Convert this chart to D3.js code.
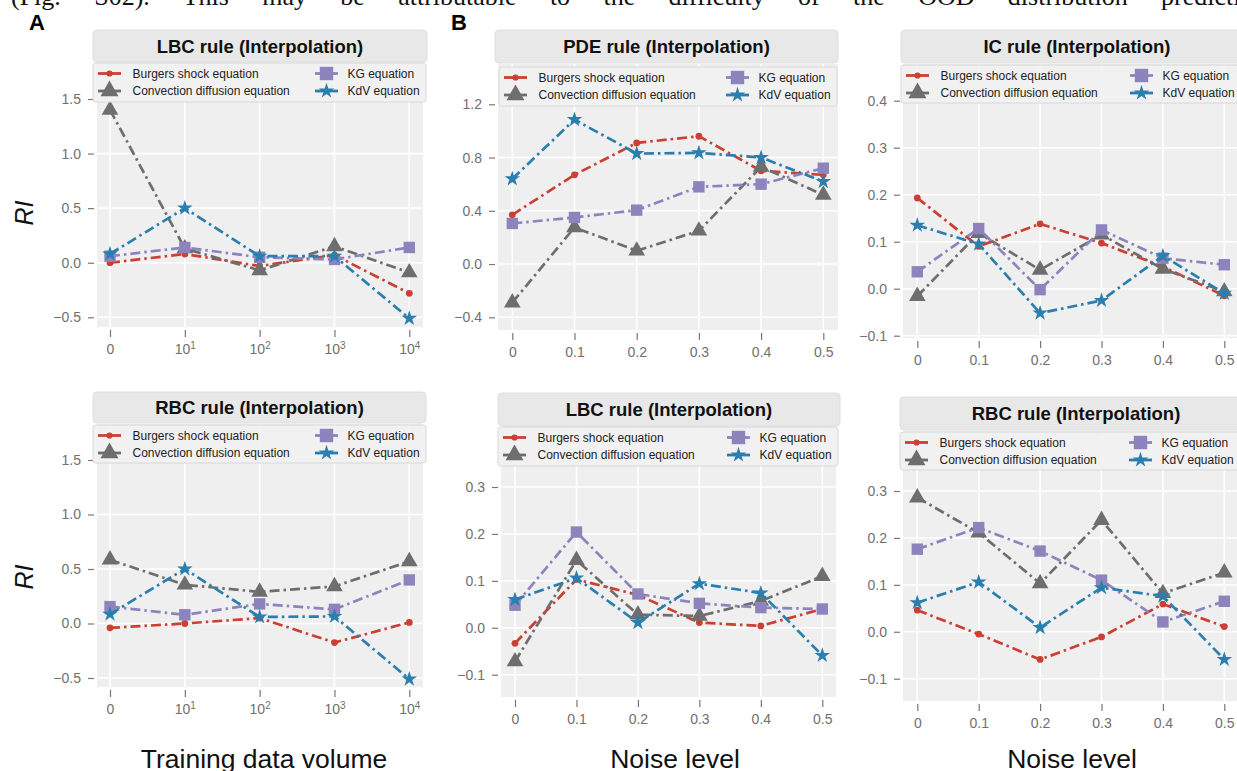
<!DOCTYPE html>
<html>
<head>
<meta charset="utf-8">
<script src="https://cdn.jsdelivr.net/npm/d3@7"></script>
<style>
  html, body { margin: 0; padding: 0; background: #fff; }
  svg { display: block; font-family: "Liberation Sans", Arial, sans-serif; }
</style>
</head>
<body>
<svg id="fig" width="1237" height="771"></svg>
<script>
// ---- data ----
const seriesNames = ["Burgers shock equation", "Convection diffusion equation", "KG equation", "KdV equation"];
const volumeLabels = ["0", "10^1", "10^2", "10^3", "10^4"];
const noiseLabels = ["0", "0.1", "0.2", "0.3", "0.4", "0.5"];

const volumeTicks = [-0.5, 0, 0.5, 1.0, 1.5];
const pdeTicks = [-0.4, 0, 0.4, 0.8, 1.2];
const icTicks = [-0.1, 0, 0.1, 0.2, 0.3, 0.4];
const noiseTicks = [-0.1, 0, 0.1, 0.2, 0.3];

// RI values, one row per series (Burgers, Convection, KG, KdV)
const lbcVolumeRI = [
  [0.00, 0.08, -0.03, 0.07, -0.28],
  [1.40, 0.13, -0.07, 0.15, -0.09],
  [0.06, 0.14, 0.05, 0.03, 0.14],
  [0.08, 0.50, 0.06, 0.06, -0.51]
];
const rbcVolumeRI = [
  [-0.04, 0.00, 0.05, -0.175, 0.01],
  [0.585, 0.355, 0.29, 0.34, 0.57],
  [0.155, 0.08, 0.18, 0.13, 0.40],
  [0.085, 0.50, 0.06, 0.065, -0.51]
];
const pdeNoiseRI = [
  [0.37, 0.67, 0.91, 0.96, 0.70, 0.67],
  [-0.29, 0.275, 0.10, 0.25, 0.73, 0.52],
  [0.305, 0.35, 0.405, 0.58, 0.60, 0.72],
  [0.64, 1.085, 0.83, 0.835, 0.80, 0.62]
];
const icNoiseRI = [
  [0.193, 0.09, 0.138, 0.097, 0.047, -0.015],
  [-0.016, 0.118, 0.04, 0.115, 0.042, -0.006],
  [0.036, 0.128, -0.002, 0.125, 0.065, 0.051],
  [0.135, 0.095, -0.052, -0.025, 0.07, -0.01]
];
const lbcNoiseRI = [
  [-0.033, 0.103, 0.07, 0.011, 0.004, 0.04],
  [-0.072, 0.144, 0.028, 0.025, 0.057, 0.11],
  [0.048, 0.204, 0.072, 0.052, 0.043, 0.04],
  [0.06, 0.106, 0.011, 0.094, 0.074, -0.059]
];
const rbcNoiseRI = [
  [0.046, -0.005, -0.059, -0.011, 0.059, 0.011],
  [0.286, 0.211, 0.103, 0.238, 0.082, 0.126],
  [0.176, 0.222, 0.172, 0.11, 0.021, 0.065],
  [0.062, 0.106, 0.009, 0.094, 0.076, -0.059]
];

// ---- style ----
const colors = ["#cc3f35", "#6e6e6e", "#8e84bd", "#2b7fae"];
const symbols = [d3.symbolCircle, d3.symbolTriangle, d3.symbolSquare, d3.symbolStar];
const symSize = [36, 120, 130, 75];
const legendSymSize = [30, 140, 180, 75];
const tickFont = "14px";

const svg = d3.select("#fig");
svg.append("rect").attr("width", 1237).attr("height", 771).attr("fill", "#fff");

// cut-off body text line at the top, justified by word spacing
const bodyText = svg.append("text")
  .attr("x", 11).attr("y", 5)
  .style("font-family", "'Liberation Serif', 'Times New Roman', serif")
  .style("font-size", "26px")
  .attr("fill", "#111")
  .text("(Fig. S02). This may be attributable to the difficulty of the OOD distribution prediction.");
{
  const natural = bodyText.node().getComputedTextLength();
  const spaces = bodyText.text().split(" ").length - 1;
  bodyText.style("word-spacing", Math.max(0, (1262 - natural) / spaces) + "px");
}

// panel layout (pixels)
const panels = [
  { title: "LBC rule (Interpolation)", cats: volumeLabels, values: lbcVolumeRI, ticks: volumeTicks, fmt: ".1f",
    strip: [93, 30, 334, 32], legend: [93, 63, 333, 39], plot: [97, 63, 423, 327], xr: [110, 409.3], yref: [317.3, 99] },
  { title: "PDE rule (Interpolation)", cats: noiseLabels, values: pdeNoiseRI, ticks: pdeTicks, fmt: ".1f",
    strip: [495, 30, 343, 33], legend: [499, 67, 338, 39], plot: [498, 64, 838, 330], xr: [512.3, 823.3], yref: [317.3, 104.3] },
  { title: "IC rule (Interpolation)", cats: noiseLabels, values: icNoiseRI, ticks: icTicks, fmt: ".1f",
    strip: [901, 30, 352, 33], legend: [901, 65, 340, 38], plot: [903, 64, 1240, 338], xr: [917.3, 1224.3], yref: [335.7, 100.7] },
  { title: "RBC rule (Interpolation)", cats: volumeLabels, values: rbcVolumeRI, ticks: volumeTicks, fmt: ".1f",
    strip: [93, 392, 333, 31], legend: [93, 425, 333, 38], plot: [97, 424, 423, 687], xr: [110, 409.3], yref: [678, 460] },
  { title: "LBC rule (Interpolation)", cats: noiseLabels, values: lbcNoiseRI, ticks: noiseTicks, fmt: ".1f",
    strip: [498, 393, 342, 33], legend: [498, 427, 340, 39], plot: [501, 427, 836, 697], xr: [515, 822.3], yref: [674.7, 487] },
  { title: "RBC rule (Interpolation)", cats: noiseLabels, values: rbcNoiseRI, ticks: noiseTicks, fmt: ".1f",
    strip: [900, 397, 352, 33], legend: [900, 432, 340, 38], plot: [903, 431, 1240, 701], xr: [917.3, 1224.3], yref: [678.7, 491] }
];

function drawPanel(cfg) {
  const g = svg.append("g");
  const [px, py, px2, py2] = cfg.plot;
  const x = d3.scalePoint().domain(cfg.cats).range(cfg.xr);
  const y = d3.scaleLinear().domain([cfg.ticks[0], cfg.ticks[cfg.ticks.length - 1]]).range(cfg.yref);

  // plot background + grid
  g.append("rect").attr("x", px).attr("y", py).attr("width", px2 - px).attr("height", py2 - py).attr("fill", "#eeefee");
  g.selectAll("line.gy").data(cfg.ticks).join("line").attr("class", "gy")
    .attr("x1", px).attr("x2", px2).attr("y1", d => y(d)).attr("y2", d => y(d))
    .attr("stroke", "#fff").attr("stroke-width", 1.6);
  g.selectAll("line.gx").data(cfg.cats).join("line").attr("class", "gx")
    .attr("x1", d => x(d)).attr("x2", d => x(d)).attr("y1", py).attr("y2", py2)
    .attr("stroke", "#fff").attr("stroke-width", 1.6);

  // y axis
  const ya = g.append("g").attr("transform", `translate(${px - 3},0)`)
    .call(d3.axisLeft(y).tickValues(cfg.ticks).tickSize(6).tickPadding(7).tickFormat(d3.format(cfg.fmt)));
  ya.select(".domain").remove();
  ya.selectAll("line").attr("stroke", "#777").attr("stroke-width", 1.2);
  ya.selectAll("text").attr("fill", "#707070").style("font-size", tickFont).style("font-family", "'Liberation Sans', Arial, sans-serif");

  // x axis
  const xa = g.append("g").attr("transform", `translate(0,${py2 + 3})`)
    .call(d3.axisBottom(x).tickSize(7).tickPadding(7));
  xa.select(".domain").remove();
  xa.selectAll("line").attr("stroke", "#777").attr("stroke-width", 1.2);
  xa.selectAll("text").attr("fill", "#707070").style("font-size", tickFont).style("font-family", "'Liberation Sans', Arial, sans-serif")
    .each(function (d) {
      if (d.indexOf("^") < 0) return;
      const [base, exp] = d.split("^");
      const t = d3.select(this).text("");
      t.append("tspan").text(base);
      t.append("tspan").attr("dy", "-0.45em").style("font-size", "10px").text(exp);
    });

  // series
  const line = d3.line().x((d, i) => x(cfg.cats[i])).y(d => y(d));
  cfg.values.forEach((vals, k) => {
    g.append("path").attr("d", line(vals)).attr("fill", "none")
      .attr("stroke", colors[k]).attr("stroke-width", 2.7)
      .attr("stroke-dasharray", "10,4,2.5,4");
    g.selectAll(null).data(vals).join("path")
      .attr("transform", (d, i) => `translate(${x(cfg.cats[i])},${y(d)})`)
      .attr("d", d3.symbol(symbols[k], symSize[k]))
      .attr("fill", colors[k]);
  });

  // title strip
  const [sx, sy, sw, sh] = cfg.strip;
  g.append("rect").attr("x", sx).attr("y", sy).attr("width", sw).attr("height", sh).attr("rx", 4)
    .attr("fill", "#e8e8e8").attr("stroke", "#dedede");
  g.append("text").attr("x", sx + sw / 2).attr("y", sy + sh / 2 + 6.6).attr("text-anchor", "middle")
    .style("font-size", "18.5px").style("font-weight", "bold").attr("fill", "#111").text(cfg.title);

  // legend
  const [lx, ly, lw, lh] = cfg.legend;
  g.append("rect").attr("x", lx).attr("y", ly).attr("width", lw).attr("height", lh).attr("rx", 3)
    .attr("fill", "#f1f1f1").attr("fill-opacity", 0.92).attr("stroke", "#d8d8d8");
  const cols = [[5, 39.5], [lw - 111, lw - 78.5]];
  seriesNames.forEach((name, k) => {
    const c = Math.floor(k / 2), r = k % 2;
    const cy = ly + 10.5 + r * 17.5;
    const [l0, t0] = cols[c];
    g.append("line").attr("x1", lx + l0).attr("x2", lx + l0 + 23).attr("y1", cy).attr("y2", cy)
      .attr("stroke", colors[k]).attr("stroke-width", 2.8);
    g.append("path").attr("transform", `translate(${lx + l0 + 11.5},${cy})`)
      .attr("d", d3.symbol(symbols[k], legendSymSize[k])).attr("fill", colors[k]);
    g.append("text").attr("x", lx + t0).attr("y", cy + 4.3).style("font-size", "12px").attr("fill", "#222").text(name);
  });
}

panels.forEach(drawPanel);

// axis titles and panel letters
const ylabY = [213, 577];
ylabY.forEach(cy => {
  svg.append("text").attr("transform", `translate(33,${cy}) rotate(-90)`).attr("text-anchor", "middle")
    .style("font-size", "25px").style("font-style", "italic").attr("fill", "#111").text("RI");
});
const xTitles = [["Training data volume", 264], ["Noise level", 675], ["Noise level", 1072]];
xTitles.forEach(([t, cx]) => {
  svg.append("text").attr("x", cx).attr("y", 767.5).attr("text-anchor", "middle")
    .style("font-size", "26.5px").attr("fill", "#111").text(t);
});
svg.append("text").attr("x", 29).attr("y", 30).style("font-size", "22px").style("font-weight", "bold").text("A");
svg.append("text").attr("x", 451).attr("y", 30).style("font-size", "22px").style("font-weight", "bold").text("B");
</script>
</body>
</html>
